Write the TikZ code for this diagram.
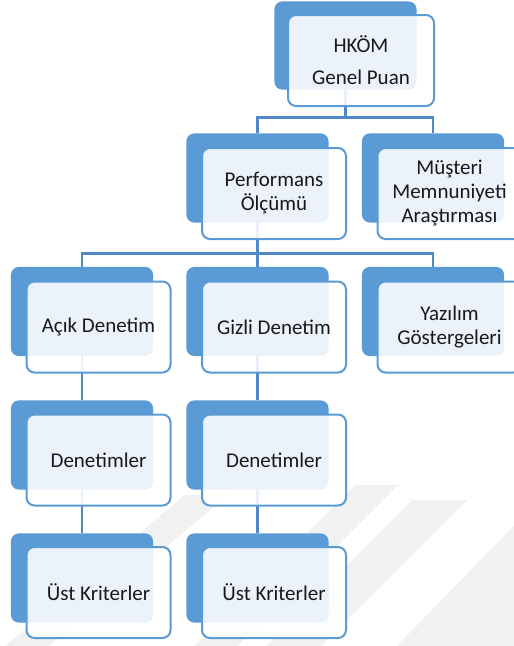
\documentclass[tikz,border=0pt]{standalone}
\usepackage{fontspec}
\setmainfont{Carlito}

\definecolor{boxblue}{HTML}{5B9BD5}
\definecolor{linkblue}{HTML}{5089C6}
\definecolor{panel}{HTML}{FFFFFF}
\definecolor{mark}{HTML}{F1F1F1}

\tikzset{
  backbox/.style={draw=white, line width=1.2pt, fill=boxblue, rounded corners=8pt,
    minimum width=141pt, minimum height=88pt, inner sep=0pt},
  frontbox/.style={draw=boxblue, line width=2pt, fill=panel, fill opacity=0.88,
    text opacity=1, draw opacity=1, rounded corners=8pt,
    minimum width=144pt, minimum height=91pt, inner sep=0pt,
    align=center, text=black!90,
    font=\fontsize{21}{24}\selectfont},
  link/.style={draw=linkblue, line width=2.4pt},
  stripe/.style={fill=mark, draw=none}
}

\begin{document}
\begin{tikzpicture}[x=1pt, y=-1pt]
  \useasboundingbox (0,0) rectangle (514,646);
  \clip (0,0) rectangle (514,646);
  \fill[white] (0,0) rectangle (514,646);

  % faint diagonal background stripes
  \fill[stripe] (185,495) -- (228,495) -- (48,646) -- (5,646) -- cycle;
  \fill[stripe] (355,485) -- (398,485) -- (237,646) -- (194,646) -- cycle;
  \fill[stripe] (412,500) -- (467,500) -- (321,646) -- (266,646) -- cycle;
  \fill[stripe] (539,500) -- (700,500) -- (700,646) -- (397,646) -- cycle;

  % back (blue) boxes
  \node[backbox, minimum height=87pt] (top) at (345.5,45.5) {};
  \node[backbox] (perf)  at (257.5,178) {};
  \node[backbox] (must)  at (433,178) {};
  \node[backbox] (acik)  at (82,311.5) {};
  \node[backbox] (gizli) at (257.5,311.5) {};
  \node[backbox] (yaz)   at (433,311.5) {};
  \node[backbox] (den1)  at (82,445) {};
  \node[backbox] (den2)  at (257.5,445) {};
  \node[backbox] (ust1)  at (82,578) {};
  \node[backbox] (ust2)  at (257.5,578) {};

  % connectors between the back boxes
  \draw[link] (top.south) -- ++(0,28) -| (perf.north);
  \draw[link] (top.south) -- ++(0,28) -| (must.north);
  \draw[link] (perf.south) -- ++(0,31) -| (acik.north);
  \draw[link] (perf.south) -- ++(0,31) -| (gizli.north);
  \draw[link] (perf.south) -- ++(0,31) -| (yaz.north);
  \draw[link] (acik.south) -- (den1.north);
  \draw[link] (den1.south) -- (ust1.north);
  \draw[link] (gizli.south) -- (den2.north);
  \draw[link] (den2.south) -- (ust2.north);

  % back boxes filled again over the connector ends
  \foreach \n in {top,perf,must,acik,gizli,yaz,den1,den2,ust1,ust2}{
    \path[fill=boxblue, rounded corners=8pt] (\n.north west) rectangle (\n.south east);
  }

  % front (white) panels with the labels
  \node[frontbox, minimum width=146pt] (topf) at (361,60.5) {HKÖM\\[8pt]Genel Puan};
  \node[frontbox] (perff)  at (274,193.5) {Performans\\Ölçümü};
  \node[frontbox] (mustf)  at (449.5,193.5) {Müşteri\\Memnuniyeti\\Araştırması};
  \node[frontbox] (acikf)  at (98.5,327) {Açık Denetim};
  \node[frontbox] (gizlif) at (274,327) {Gizli Denetim};
  \node[frontbox] (yazf)   at (449.5,327) {Yazılım\\Göstergeleri};
  \node[frontbox] (den1f)  at (98.5,460) {Denetimler};
  \node[frontbox] (den2f)  at (274,460) {Denetimler};
  \node[frontbox] (ust1f)  at (98.5,592.5) {Üst Kriterler};
  \node[frontbox] (ust2f)  at (274,592.5) {Üst Kriterler};
\end{tikzpicture}
\end{document}
